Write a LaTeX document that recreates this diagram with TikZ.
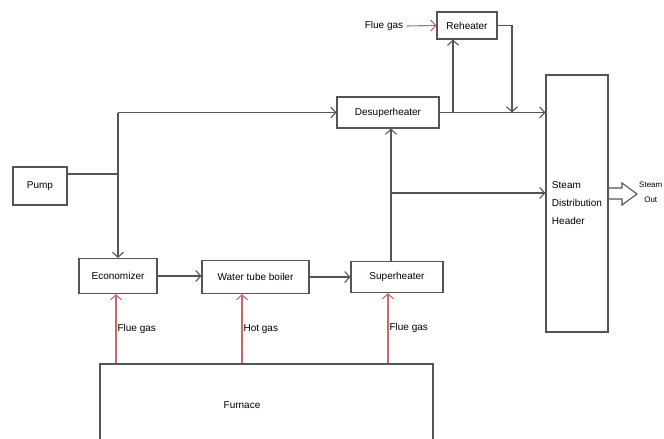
\documentclass[tikz,border=0pt]{standalone}
\usepackage{fontspec}
\setmainfont{Liberation Sans}
\usepackage{tikz}
\usetikzlibrary{arrows.meta}
\definecolor{linegray}{RGB}{85,85,85}
\definecolor{gasred}{RGB}{200,105,105}

\begin{document}
\begin{tikzpicture}[x=1pt,y=-1pt,
  font=\fontsize{10}{11}\selectfont,
  unit/.style={draw=linegray,line width=1.1pt,inner sep=0pt,minimum width=#1},
  flow/.style={draw=linegray,line width=1.1pt,-{Straight Barb[length=5pt,width=11pt]}},
  gas/.style={draw=gasred,line width=1.1pt,-{Straight Barb[length=5pt,width=11pt]}},
  plain/.style={draw=linegray,line width=1.1pt}]
\useasboundingbox (0,0) rectangle (664,439);
\node[unit=54pt,minimum height=38pt] (pump) at (40,186) {Pump};
\node[unit=78pt,minimum height=35pt] (econ) at (118,276) {Economizer};
\node[unit=107pt,minimum height=33pt] (boiler) at (255.5,277) {Water tube boiler};
\node[unit=92pt,minimum height=31pt] (super) at (397,277) {Superheater};
\node[unit=102pt,minimum height=31pt] (desup) at (388,112.5) {Desuperheater};
\node[unit=60pt,minimum height=27pt] (reheat) at (467,25.5) {Reheater};
\node[unit=62pt,minimum height=257pt,align=left,font=\fontsize{10}{18}\selectfont] (header) at (577,203.5) {Steam\\Distribution\\Header};
\node[unit=333pt,minimum height=110pt] (furnace) at (266.5,419) {};
\node (furnacetxt) at (242,405) {Furnace};
\node (fluegas) at (384,26) {Flue gas};
\node[anchor=west,align=center,inner sep=0pt,font=\fontsize{8}{15}\selectfont] (steamout) at (639,192) {Steam\\Out};
\coordinate (pumpj) at (118,174);
\coordinate (topj) at (118,112.5);
\coordinate (superj) at (391,193);
\coordinate (reheatj) at (453,112.5);
\coordinate (returnj) at (512,112.5);
\draw[plain] ([yshift=12pt]pump.east) -- (pumpj);
\draw[flow] (topj) -- (econ.north);
\draw[flow] (topj) -- (desup.west);
\draw[flow] (econ.east) -- (econ.east -| boiler.west);
\draw[flow] (boiler.east) -- (boiler.east -| super.west);
\draw[flow] ([xshift=-6pt]super.north) -- ([xshift=-6pt]super.north |- desup.south);
\draw[flow] (superj) -- (superj -| header.west);
\draw[flow] (desup.east) -- (desup.east -| header.west);
\draw[flow] (reheatj) -- (reheatj |- reheat.south);
\draw[flow] (reheat.east) -| (returnj);
\draw[gas] (fluegas.east) -- (reheat.west);
\draw[gas] ([xshift=-2pt]econ.south |- furnace.north) -- node[right,inner sep=1pt] (gasa) {Flue gas} ([xshift=-2pt]econ.south);
\draw[gas] ([xshift=-13.5pt]boiler.south |- furnace.north) -- node[right,inner sep=1pt] (gasb) {Hot gas} ([xshift=-13.5pt]boiler.south);
\draw[gas] ([xshift=-9pt]super.south |- furnace.north) -- node[right,inner sep=1pt] (gasc) {Flue gas} ([xshift=-9pt]super.south);
\draw[plain,line join=miter] (header.east |- 0,188) -- (622,188) -- (622,183) -- (637,194) -- (622,205) -- (622,199) -- (header.east |- 0,199);
\end{tikzpicture}
\end{document}
